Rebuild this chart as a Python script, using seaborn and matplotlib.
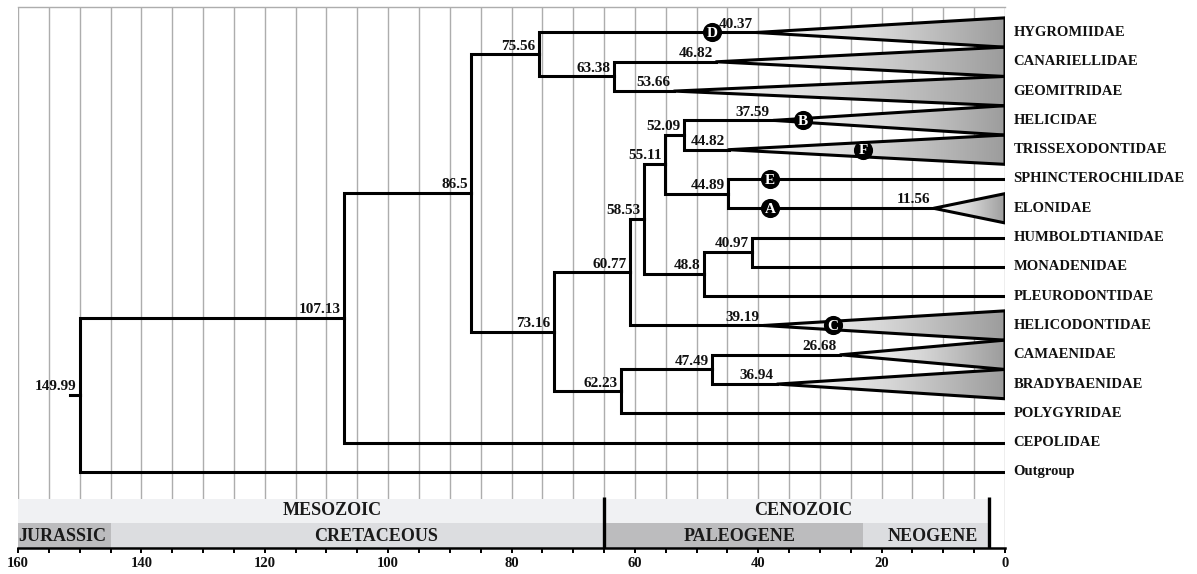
import numpy as np
import pandas as pd
import matplotlib
matplotlib.use("Agg")
import matplotlib.pyplot as plt
from matplotlib.colors import LinearSegmentedColormap
from matplotlib.patches import Polygon, Rectangle
import seaborn as sns

# ---------------------------------------------------------------- data
# Terminal taxa, top to bottom
tips = ["HYGROMIIDAE", "CANARIELLIDAE", "GEOMITRIDAE", "HELICIDAE",
        "TRISSEXODONTIDAE", "SPHINCTEROCHILIDAE", "ELONIDAE",
        "HUMBOLDTIANIDAE", "MONADENIDAE", "PLEURODONTIDAE", "HELICODONTIDAE",
        "CAMAENIDAE", "BRADYBAENIDAE", "POLYGYRIDAE", "CEPOLIDAE", "Outgroup"]
# Crown age (Ma) of collapsed families; 0 = single terminal branch
tip_crown_age = [40.37, 46.82, 53.66, 37.59, 44.82, 0, 11.56,
                 0, 0, 0, 39.19, 26.68, 36.94, 0, 0, 0]

# Internal nodes with divergence ages (Ma) and their two descendants
node_names = ["root", "n107", "n86", "n75", "n63", "n73", "n60", "n58",
              "n55", "n52", "n44", "n48", "n40", "n62", "n47"]
node_ages = [149.99, 107.13, 86.5, 75.56, 63.38, 73.16, 60.77, 58.53,
             55.11, 52.09, 44.89, 48.8, 40.97, 62.23, 47.49]
node_children = [("n107", "Outgroup"), ("n86", "CEPOLIDAE"), ("n75", "n73"),
                 ("HYGROMIIDAE", "n63"), ("CANARIELLIDAE", "GEOMITRIDAE"),
                 ("n60", "n62"), ("n58", "HELICODONTIDAE"), ("n55", "n48"),
                 ("n52", "n44"), ("HELICIDAE", "TRISSEXODONTIDAE"),
                 ("SPHINCTEROCHILIDAE", "ELONIDAE"), ("n40", "PLEURODONTIDAE"),
                 ("HUMBOLDTIANIDAE", "MONADENIDAE"), ("n47", "POLYGYRIDAE"),
                 ("CAMAENIDAE", "BRADYBAENIDAE")]

# Fossil calibration points
marker_labels = ["A", "B", "C", "D", "E", "F"]
marker_tips = ["ELONIDAE", "HELICIDAE", "HELICODONTIDAE", "HYGROMIIDAE",
               "SPHINCTEROCHILIDAE", "TRISSEXODONTIDAE"]
marker_ages = [38.1, 32.7, 27.9, 47.5, 38.1, 23.0]

# Geological time scale
eras = ["MESOZOIC", "CENOZOIC"]
era_start = [160, 65]
era_end = [65, 2.58]
periods = ["JURASSIC", "CRETACEOUS", "PALEOGENE", "NEOGENE"]
period_start = [160, 145, 65, 23]
period_end = [145, 65, 23, 2.58]

# ---------------------------------------------------------------- style
sns.set_theme(style="white")
plt.rcParams["font.family"] = ["Liberation Serif", "DejaVu Serif"]
plt.rcParams["font.weight"] = "bold"

W, H = 1197, 574
fig = plt.figure(figsize=(W / 100, H / 100), dpi=100)
ax = fig.add_axes([18 / W, 1 - 548 / H, 987 / W, 541 / H])

Y_TOP, Y_AXIS = -0.87, 17.594
ERA_TOP, PERIOD_TOP = 15.92, 16.74
ROOT_STEM = 1.6
HALF = 0.5
TXT = "#111111"

# ---------------------------------------------------------------- layout
row = {t: i for i, t in enumerate(tips)}
age = {t: a for t, a in zip(tips, tip_crown_age)}
children = dict(zip(node_names, node_children))
age.update(dict(zip(node_names, node_ages)))


def y_of(name):
    if name in row:
        return row[name]
    a, b = children[name]
    return (y_of(a) + y_of(b)) / 2


# branch paths: node -> vertical -> horizontal to child
recs = []
bid = 0
for n in node_names:
    yn = y_of(n)
    for c in children[n]:
        yc = y_of(c)
        for k, (xx, yy) in enumerate([(age[n], yn), (age[n], yc), (age[c], yc)]):
            recs.append({"age": xx, "row": yy, "branch": bid, "step": k})
        bid += 1
yr = y_of("root")
for k, xx in enumerate([age["root"] + ROOT_STEM, age["root"]]):
    recs.append({"age": xx, "row": yr, "branch": bid, "step": k})
branches = pd.DataFrame(recs)

# ---------------------------------------------------------------- grid
for g in np.arange(0, 161, 5):
    ax.plot([g, g], [Y_TOP, Y_AXIS], color="#adadad", lw=1.0, zorder=0)

# ---------------------------------------------------------------- time scale
for s, e in zip(era_start, era_end):
    ax.add_patch(Rectangle((e, ERA_TOP), s - e, PERIOD_TOP - ERA_TOP,
                           facecolor="#f0f1f3", edgecolor="none", zorder=1))
for i, (s, e) in enumerate(zip(period_start, period_end)):
    ax.add_patch(Rectangle((e, PERIOD_TOP), s - e, Y_AXIS - PERIOD_TOP,
                           facecolor="#bcbcbe" if i % 2 == 0 else "#dcdde0",
                           edgecolor="none", zorder=1))
era_label_x = [109, 32.7]
for name, x in zip(eras, era_label_x):
    ax.text(x, (ERA_TOP + PERIOD_TOP) / 2, name, ha="center", va="center",
            fontsize=13, color="#1a1a1a", zorder=3)
period_label_x = [160, 102, 43, 11.7]
for i, (name, x) in enumerate(zip(periods, period_label_x)):
    ax.text(x, (PERIOD_TOP + Y_AXIS) / 2 + 0.02, name,
            ha="left" if i == 0 else "center", va="center",
            fontsize=13, color="#1a1a1a", zorder=3)
for b in [65, 2.58]:
    ax.plot([b, b], [ERA_TOP - 0.08, Y_AXIS], color="black", lw=2.4,
            solid_capstyle="butt", zorder=3)

# ---------------------------------------------------------------- collapsed clades
tri_cmap = LinearSegmentedColormap.from_list("tri", ["#ffffff", "#d6d6d6", "#9c9c9c"])
grad = np.linspace(0, 1, 256).reshape(1, -1)
for t, a in zip(tips, tip_crown_age):
    if a <= 0:
        continue
    y = row[t]
    pts = [(a, y), (0, y - HALF), (0, y + HALF)]
    clip = Polygon(pts, closed=True, facecolor="none", edgecolor="none",
                   transform=ax.transData)
    ax.add_patch(clip)
    im = ax.imshow(grad, cmap=tri_cmap, extent=(a, 0, y + HALF, y - HALF),
                   aspect="auto", interpolation="bilinear", zorder=2)
    im.set_clip_path(clip)
    ax.add_patch(Polygon(pts, closed=True, facecolor="none", edgecolor="black",
                         lw=2.2, joinstyle="round", zorder=4))

# ---------------------------------------------------------------- branches
sns.lineplot(data=branches, x="age", y="row", units="branch", estimator=None,
             sort=False, color="black", lw=2.2, ax=ax, legend=False,
             solid_joinstyle="miter", solid_capstyle="projecting", zorder=4)

# node ages
for n in node_names:
    ax.annotate(f"{age[n]:g}", (age[n], y_of(n)), xytext=(-2.5, 3.5),
                textcoords="offset points", ha="right", va="baseline",
                fontsize=11, color=TXT, zorder=6)
for t, a in zip(tips, tip_crown_age):
    if a > 0:
        ax.annotate(f"{a:g}", (a, row[t]), xytext=(-2.5, 3.5),
                    textcoords="offset points", ha="right", va="baseline",
                    fontsize=11, color=TXT, zorder=6)

# tip names
for t in tips:
    ax.annotate(t, (0, row[t]), xytext=(6, 0), textcoords="offset points",
                ha="left", va="center", fontsize=10.5, color=TXT,
                annotation_clip=False)

# calibration markers
marks = pd.DataFrame({"age": marker_ages, "row": [row[t] for t in marker_tips],
                      "label": marker_labels})
sns.scatterplot(data=marks, x="age", y="row", s=190, color="black",
                edgecolor="black", linewidth=0, ax=ax, zorder=7, legend=False)
for _, r in marks.iterrows():
    ax.text(r["age"], r["row"] + 0.04, r["label"], ha="center", va="center",
            color="white", fontsize=11, zorder=8)

# ---------------------------------------------------------------- axes
ax.set_xlim(160, 0)
ax.set_ylim(Y_AXIS, Y_TOP)
ax.set_xlabel("")
ax.set_ylabel("")
ax.set_yticks([])
ax.set_xticks(np.arange(0, 161, 20))
ax.set_xticks(np.arange(0, 161, 5), minor=True)
ax.tick_params(axis="x", which="both", direction="out", length=3.5, width=1.4,
               color="black", bottom=True, pad=3, labelsize=10.5,
               labelcolor=TXT)
for lab in ax.get_xticklabels():
    lab.set_fontweight("bold")
for side in ["left", "right"]:
    ax.spines[side].set_visible(False)
ax.spines["top"].set_color("#adadad")
ax.spines["top"].set_linewidth(1.0)
ax.spines["bottom"].set_color("black")
ax.spines["bottom"].set_linewidth(1.8)
ax.spines["bottom"].set_zorder(5)

fig.savefig("out.png", dpi=100)
